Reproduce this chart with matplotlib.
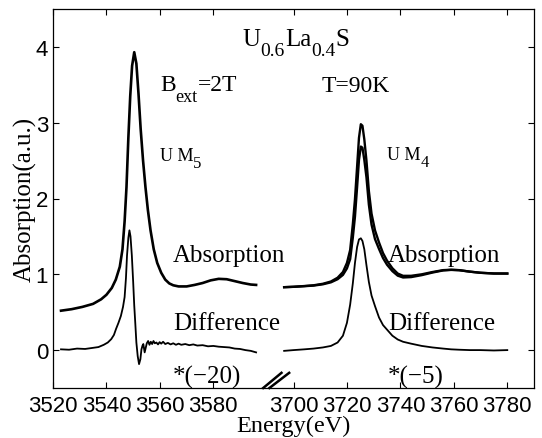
import matplotlib
matplotlib.use("Agg")
import matplotlib.pyplot as plt
import matplotlib.transforms as mtransforms
import numpy as np

# ---------------- data ----------------
# M5 edge (left panel), energies in eV
m5_abs_x = [3523, 3527, 3531, 3535, 3538, 3540, 3542, 3543.5, 3545, 3546, 3546.8, 3547.5,
            3548.2, 3548.9, 3549.6, 3550.4, 3551.2, 3552.0, 3552.8, 3553.7, 3554.6, 3555.5,
            3556.5, 3557.7, 3559, 3560.5, 3562, 3563.5, 3565, 3567, 3570, 3573, 3576, 3579,
            3582, 3585, 3588, 3591, 3594, 3596]
m5_abs_y = [0.52, 0.54, 0.57, 0.61, 0.67, 0.73, 0.82, 0.93, 1.10, 1.33, 1.70, 2.15,
            2.80, 3.35, 3.75, 3.93, 3.78, 3.38, 2.92, 2.50, 2.15, 1.85,
            1.58, 1.33, 1.15, 1.02, 0.93, 0.88, 0.855, 0.84, 0.84, 0.86, 0.885, 0.92,
            0.94, 0.935, 0.91, 0.885, 0.865, 0.86]

m5_diff_x = [3523, 3526, 3529, 3532, 3535, 3537, 3539, 3540.5, 3541.8, 3542.8, 3543.6, 3544.5,
             3545.4, 3546.2, 3546.8, 3547.3, 3547.7, 3548.2, 3548.6, 3549.0, 3549.5, 3550.0,
             3550.4, 3550.8, 3551.2, 3551.7, 3552.2, 3552.7, 3553.1, 3553.5, 3553.8, 3554.3,
             3554.7, 3555.1, 3555.6, 3556.1, 3556.6, 3557.1, 3557.6, 3558.1, 3558.7, 3559.3,
             3559.9, 3560.5, 3561.2, 3562, 3563, 3564, 3565, 3566, 3567, 3568, 3569.5, 3571,
             3572.5, 3574, 3576, 3578, 3580, 3582, 3584, 3586, 3588, 3590, 3592, 3594, 3596]
m5_diff_y = [0.01, 0.005, 0.02, 0.015, 0.03, 0.04, 0.07, 0.10, 0.145, 0.20, 0.28, 0.36,
             0.45, 0.57, 0.70, 0.95, 1.25, 1.48, 1.58, 1.50, 1.25, 0.90,
             0.59, 0.35, 0.10, -0.08, -0.185, -0.12, 0.01, 0.06, 0.08, -0.03,
             0.03, 0.09, 0.12, 0.07, 0.11, 0.08, 0.12, 0.09, 0.10, 0.075,
             0.105, 0.085, 0.11, 0.08, 0.095, 0.075, 0.09, 0.07, 0.085, 0.07, 0.08, 0.065,
             0.075, 0.06, 0.065, 0.05, 0.055, 0.045, 0.04, 0.035, 0.02, 0.015, 0.0, -0.01, -0.03]

# M4 edge (right panel)
m4_x = [3696.5, 3700, 3704, 3707.5, 3711, 3714, 3716.5, 3718.5, 3720, 3721.2, 3722.2, 3723,
        3723.8, 3724.5, 3725.2, 3725.8, 3726.5, 3727.3, 3728.2, 3729.2, 3730.5, 3732,
        3733.5, 3735, 3737, 3739, 3741, 3744, 3748, 3752, 3756, 3759, 3762, 3766, 3770,
        3775, 3780]
m4_abs_a = [0.83, 0.835, 0.845, 0.855, 0.875, 0.905, 0.955, 1.03, 1.15, 1.32, 1.66, 1.99,
            2.42, 2.80, 2.98, 2.96, 2.78, 2.50, 2.10, 1.80, 1.58, 1.42,
            1.28, 1.18, 1.08, 1.01, 0.98, 0.98, 1.00, 1.03, 1.055, 1.06, 1.055, 1.035, 1.02,
            1.01, 1.01]
m4_abs_b = [0.83, 0.835, 0.843, 0.851, 0.868, 0.894, 0.935, 0.992, 1.078, 1.20, 1.484, 1.76,
            2.15, 2.51, 2.685, 2.67, 2.51, 2.28, 1.92, 1.656, 1.464, 1.334,
            1.214, 1.126, 1.042, 0.982, 0.958, 0.963, 0.989, 1.023, 1.051, 1.058, 1.054,
            1.035, 1.02, 1.011, 1.01]
m4_diff = [-0.01, 0.0, 0.01, 0.02, 0.035, 0.055, 0.10, 0.19, 0.36, 0.60, 0.88, 1.15,
           1.36, 1.46, 1.475, 1.44, 1.33, 1.12, 0.90, 0.72, 0.58, 0.43,
           0.33, 0.27, 0.19, 0.14, 0.11, 0.085, 0.055, 0.035, 0.02, 0.01, 0.005, 0.0, 0.0,
           -0.005, 0.0]

left_ticks = [3520, 3540, 3560, 3580]
right_ticks = [3700, 3720, 3740, 3760, 3780]
gap = 90  # eV removed between the two energy ranges
yticks = [0, 1, 2, 3, 4]

# ---------------- plotting ----------------
SERIF = 'Liberation Serif'
SANS = 'Liberation Sans'

fig = plt.figure(figsize=(5.42, 4.39), dpi=100)
ax = fig.add_axes([53/542, 1-389/439, 481/542, 379/439])

r_x = np.array(m4_x) - gap

ax.plot(m5_abs_x, m5_abs_y, color='black', lw=1.9)
ax.plot(m5_diff_x, m5_diff_y, color='black', lw=1.3)
ax.plot(r_x, m4_abs_a, color='black', lw=1.7)
ax.plot(r_x, m4_abs_b, color='black', lw=1.7)
ax.plot(r_x, m4_diff, color='black', lw=1.3)

ax.set_xlim(3520, 3790 - gap)
ax.set_ylim(-0.5, 4.5)

xt_pos = list(left_ticks) + [t - gap for t in right_ticks]
xt_lab = [str(t) for t in left_ticks] + [str(t) for t in right_ticks]
ax.set_xticks(xt_pos)
ax.set_xticklabels(xt_lab)
ax.set_yticks(yticks)
ax.set_yticklabels([str(t) for t in yticks])
ax.tick_params(axis='both', direction='in', length=4, width=0.8,
               top=True, right=True, labelsize=16)
ax.tick_params(axis='x', pad=5)
ax.tick_params(axis='y', pad=3.5)
for lab in ax.get_xticklabels() + ax.get_yticklabels():
    lab.set_fontfamily(SANS)
for sp in ax.spines.values():
    sp.set_linewidth(0.9)

# axis break marks
ax.plot([0.437, 0.475], [0.0, 0.04], transform=ax.transAxes, color='black', lw=1.8, clip_on=False)
ax.plot([0.450, 0.491], [0.0, 0.04], transform=ax.transAxes, color='black', lw=1.8, clip_on=False)

T = ax.transAxes
renderer = fig.canvas.get_renderer()


def rich(fx, fy, parts, size, subsize, drop_px, center=False):
    """parts: list of (string, is_subscript). Places pieces one after another."""
    texts = []
    dx = 0.0
    for s, sub in parts:
        off = mtransforms.ScaledTranslation(dx / fig.dpi, (-drop_px if sub else 0) / fig.dpi,
                                            fig.dpi_scale_trans)
        t = ax.text(fx, fy, s, transform=T + off, ha='left', va='baseline',
                    fontsize=subsize if sub else size, fontfamily=SERIF)
        w = t.get_window_extent(renderer).width
        dx += w
        texts.append(t)
    if center:
        for t in texts:
            t.set_transform(t.get_transform() +
                            mtransforms.ScaledTranslation(-dx / 2 / fig.dpi, 0, fig.dpi_scale_trans))
    return texts


rich(0.505, 0.905, [('U', False), ('0.6', True), ('La', False), ('0.4', True), ('S', False)],
     18, 14, 10, center=True)
rich(0.2225, 0.786, [('B', False), ('ext', True), ('=2T', False)], 17, 13, 11)
ax.text(0.5586, 0.784, 'T=90K', transform=T, ha='left', va='baseline',
        fontsize=17, fontfamily=SERIF)
rich(0.222, 0.602, [('U M', False), ('5', True)], 13, 12, 7)
rich(0.695, 0.604, [('U M', False), ('4', True)], 13, 12, 7)

for fx in (0.2495, 0.6965):
    ax.text(fx, 0.336, 'Absorption', transform=T, ha='left', va='baseline',
            fontsize=18, fontfamily=SERIF)
    ax.text(fx, 0.1557, 'Difference', transform=T, ha='left', va='baseline',
            fontsize=18, fontfamily=SERIF)
ax.text(0.2495, 0.014, '*(\u221220)', transform=T, ha='left', va='baseline',
        fontsize=18, fontfamily=SERIF)
ax.text(0.6965, 0.014, '*(\u22125)', transform=T, ha='left', va='baseline',
        fontsize=18, fontfamily=SERIF)

ax.text(0.5, -0.113, 'Energy(eV)', transform=T, ha='center', va='baseline',
        fontsize=17.5, fontfamily=SERIF)
ax.text(-0.058, 0.5, 'Absorption(a.u.)', transform=T, ha='center', va='center',
        rotation=90, fontsize=18, fontfamily=SERIF)

fig.savefig('out.png', dpi=100)
